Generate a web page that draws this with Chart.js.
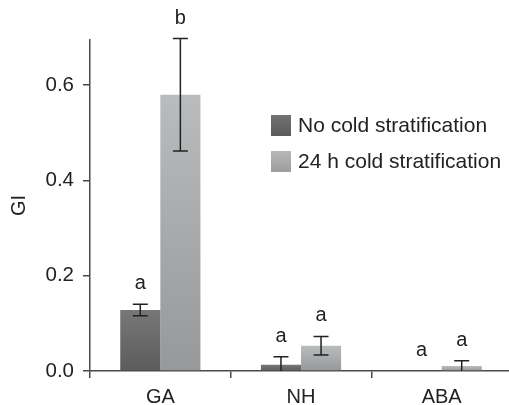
<!DOCTYPE html>
<html>
<head>
<meta charset="utf-8">
<script src="https://cdn.jsdelivr.net/npm/chart.js@4/dist/chart.umd.min.js"></script>
<style>
  html, body { margin: 0; padding: 0; background: #fff; overflow: hidden; }
  #wrap { width: 512px; height: 405px; }
</style>
</head>
<body>
<div id="wrap"><canvas id="giChart" width="512" height="405"></canvas></div>
<script>
const categories = ["GA", "NH", "ABA"];
const seriesNames = ["No cold stratification", "24 h cold stratification"];
const noCold = [0.128, 0.013, 0];
const noColdErr = [0.012, 0.017, 0];
const cold24 = [0.58, 0.053, 0.0105];
const cold24Err = [0.118, 0.0195, 0.011];
const noColdLetters = ["a", "a", "a"];
const cold24Letters = ["b", "a", "a"];
const yTicks = [0, 0.2, 0.4, 0.6];

const FONT = "'Liberation Sans', Arial, Helvetica, sans-serif";
const TEXT = "#222";
const AXIS = "#4a4a4a";

// vertical gradient per bar, top lighter than bottom
function barFill(top, bottom) {
    return function (ctx) {
        const chart = ctx.chart;
        if (!chart.chartArea || !chart.scales.y) return bottom;
        const y = chart.scales.y;
        const v = ctx.raw || 0;
        const y0 = y.getPixelForValue(0);
        const y1 = y.getPixelForValue(v);
        if (y0 - y1 < 1) return bottom;
        const g = chart.ctx.createLinearGradient(0, y1, 0, y0);
        g.addColorStop(0, top);
        g.addColorStop(1, bottom);
        return g;
    };
}

const errorBars = {
    id: "errorBars",
    afterDatasetsDraw(chart, args, opts) {
        const ctx = chart.ctx;
        const y = chart.scales.y;
        ctx.save();
        chart.data.datasets.forEach((ds, di) => {
            const meta = chart.getDatasetMeta(di);
            meta.data.forEach((bar, i) => {
                const v = ds.data[i];
                const e = ds.errors[i];
                const top = v + e;
                if (e > 0) {
                    const yTop = y.getPixelForValue(top);
                    const yBot = y.getPixelForValue(Math.max(0, v - e));
                    ctx.strokeStyle = TEXT;
                    ctx.lineWidth = 1.5;
                    ctx.beginPath();
                    ctx.moveTo(bar.x, yTop);
                    ctx.lineTo(bar.x, yBot);
                    ctx.moveTo(bar.x - 7.5, yTop);
                    ctx.lineTo(bar.x + 7.5, yTop);
                    if (v - e > 0) {
                        ctx.moveTo(bar.x - 7.5, yBot);
                        ctx.lineTo(bar.x + 7.5, yBot);
                    }
                    ctx.stroke();
                }
                // significance letter above the bar
                ctx.fillStyle = TEXT;
                ctx.font = "20px " + FONT;
                ctx.textAlign = "center";
                ctx.textBaseline = "alphabetic";
                ctx.fillText(ds.letters[i], bar.x, y.getPixelForValue(top) - 15);
            });
        });
        ctx.restore();
    }
};

const innerLegend = {
    id: "innerLegend",
    afterDraw(chart) {
        const ctx = chart.ctx;
        const area = chart.chartArea;
        const x = area.left + 181;
        let yc = area.top + 85.5;
        ctx.save();
        chart.data.datasets.forEach((ds) => {
            const g = ctx.createLinearGradient(0, yc - 10.5, 0, yc + 10.5);
            g.addColorStop(0, ds.legendTop);
            g.addColorStop(1, ds.legendBottom);
            ctx.fillStyle = g;
            ctx.fillRect(x, yc - 10.5, 20, 21);
            ctx.fillStyle = TEXT;
            ctx.font = "21px " + FONT;
            ctx.textAlign = "left";
            ctx.textBaseline = "middle";
            ctx.fillText(ds.label, x + 27, yc + 1);
            yc += 36;
        });
        ctx.restore();
    }
};

new Chart(document.getElementById("giChart").getContext("2d"), {
    type: "bar",
    data: {
        labels: categories,
        datasets: [
            {
                label: seriesNames[0],
                data: noCold,
                errors: noColdErr,
                letters: noColdLetters,
                backgroundColor: barFill("#777777", "#5c5c5c"),
                legendTop: "#727272",
                legendBottom: "#5a5a5a",
                barPercentage: 1,
                categoryPercentage: 0.57,
            },
            {
                label: seriesNames[1],
                data: cold24,
                errors: cold24Err,
                letters: cold24Letters,
                backgroundColor: barFill("#b9bbbd", "#96989a"),
                legendTop: "#b8b8b8",
                legendBottom: "#9c9c9c",
                barPercentage: 1,
                categoryPercentage: 0.57,
            },
        ],
    },
    options: {
        responsive: false,
        animation: false,
        events: [],
        layout: { padding: { top: 40, right: 0, left: 0, bottom: 0 } },
        plugins: {
            legend: { display: false },
            tooltip: { enabled: false },
        },
        scales: {
            x: {
                afterFit: (axis) => { axis.height = 34; },
                border: { color: AXIS, width: 1.5 },
                grid: {
                    drawOnChartArea: false,
                    color: AXIS,
                    lineWidth: 1.5,
                    tickLength: 7,
                },
                ticks: {
                    color: TEXT,
                    padding: 7,
                    font: { family: FONT, size: 20 },
                },
            },
            y: {
                min: 0,
                max: 0.695,
                afterFit: (axis) => { axis.width = 90; },
                afterBuildTicks: (axis) => {
                    axis.ticks = yTicks.map((v) => ({ value: v }));
                },
                border: { color: AXIS, width: 1.5 },
                grid: {
                    drawOnChartArea: false,
                    color: AXIS,
                    lineWidth: 1.5,
                    tickLength: 7,
                },
                ticks: {
                    color: TEXT,
                    padding: 9,
                    font: { family: FONT, size: 20.5 },
                    callback: (v) => Number(v).toFixed(1),
                },
                title: {
                    display: true,
                    text: "GI",
                    color: TEXT,
                    font: { family: FONT, size: 20 },
                    padding: { top: 7, bottom: 0 },
                },
            },
        },
    },
    plugins: [errorBars, innerLegend],
});
</script>
</body>
</html>
